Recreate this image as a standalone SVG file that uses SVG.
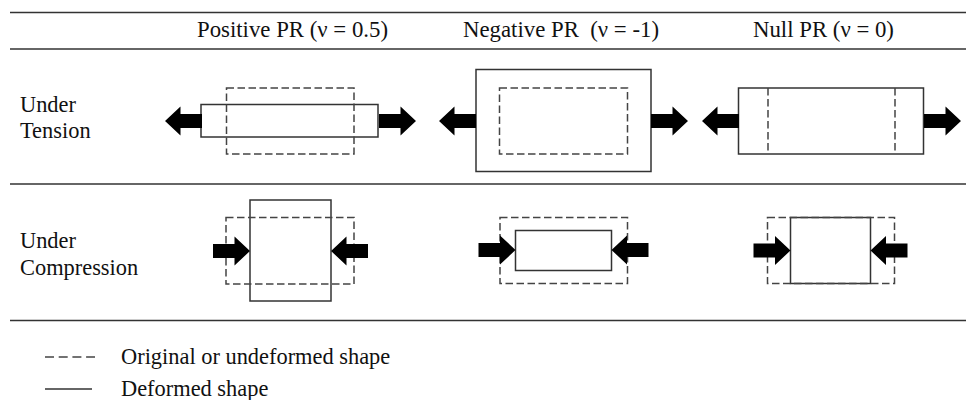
<svg xmlns="http://www.w3.org/2000/svg" width="966" height="400" viewBox="0 0 966 400">
  <defs>
    <style>
      .txt { font-family: "Liberation Serif", "Times New Roman", serif; fill: #111; }
      .hdr { font-size: 22.8px; }
      .lbl { font-size: 22.4px; }
      .rule { stroke: #333; stroke-width: 1.6; fill: none; }
      .solid { stroke: #333; stroke-width: 1.5; fill: none; }
      .dash { stroke: #444; stroke-width: 1.5; fill: none; stroke-dasharray: 7.5 3.5; }
      .arrow { fill: #000; }
    </style>
    <!-- block arrow pointing right, tip at origin -->
    <path id="arrowR" class="arrow" d="M-37,-7 L-15.5,-7 L-15.5,-14.5 L0,0 L-15.5,14.5 L-15.5,7 L-37,7 Z"/>
  </defs>

  <rect width="966" height="400" fill="#fff"/>

  <!-- table rules -->
  <g id="rules">
    <line class="rule" x1="10" y1="12.5" x2="966" y2="12.5"/>
    <line class="rule" x1="10" y1="49" x2="966" y2="49"/>
    <line class="rule" x1="10" y1="184" x2="966" y2="184"/>
    <line class="rule" x1="10" y1="320.5" x2="966" y2="320.5"/>
  </g>

  <!-- column headers -->
  <g id="headers" class="txt hdr" font-family="Liberation Serif, serif">
    <text x="197" y="37">Positive PR (ν = 0.5)</text>
    <text x="463" y="37" xml:space="preserve">Negative PR  (ν = -1)</text>
    <text x="753" y="37">Null PR (ν = 0)</text>
  </g>

  <!-- row labels -->
  <g id="row-tension" class="txt lbl" font-family="Liberation Serif, serif">
    <text x="20" y="111.5">Under</text>
    <text x="20" y="138">Tension</text>
  </g>
  <g id="row-compression" class="txt lbl" font-family="Liberation Serif, serif">
    <text x="20" y="248">Under</text>
    <text x="20" y="275">Compression</text>
  </g>

  <!-- tension cells -->
  <g id="tension-positive">
    <rect class="solid" x="201" y="104.5" width="177" height="32.5"/>
    <rect class="dash" x="226.5" y="88" width="127.5" height="66"/>
  </g>
  <g id="tension-negative">
    <rect class="solid" x="476" y="69.5" width="175" height="102"/>
    <rect class="dash" x="499.5" y="88" width="128" height="66"/>
  </g>
  <g id="tension-null">
    <rect class="solid" x="738.5" y="88" width="185" height="66"/>
    <line class="dash" x1="768" y1="88" x2="768" y2="154"/>
    <line class="dash" x1="895" y1="88" x2="895" y2="154"/>
  </g>

  <!-- compression cells -->
  <g id="compression-positive">
    <rect class="solid" x="250" y="200" width="81" height="101"/>
    <rect class="dash" x="226" y="217.5" width="128" height="66.5"/>
  </g>
  <g id="compression-negative">
    <rect class="solid" x="515.5" y="230.5" width="96" height="40"/>
    <rect class="dash" x="500" y="217.5" width="127.5" height="66"/>
  </g>
  <g id="compression-null">
    <rect class="solid" x="790.5" y="217.5" width="80" height="66"/>
    <rect class="dash" x="767.5" y="217.5" width="127" height="66"/>
  </g>

  <!-- load arrows -->
  <g id="connectors">
    <use href="#arrowR" transform="translate(165,121) scale(-1,1)"/>
    <use href="#arrowR" transform="translate(416,121)"/>
    <use href="#arrowR" transform="translate(439,121) scale(-1,1)"/>
    <use href="#arrowR" transform="translate(688,121)"/>
    <use href="#arrowR" transform="translate(702,121) scale(-1,1)"/>
    <use href="#arrowR" transform="translate(961,121)"/>

    <use href="#arrowR" transform="translate(250,251)"/>
    <use href="#arrowR" transform="translate(331,251) scale(-1,1)"/>
    <use href="#arrowR" transform="translate(515.5,250)"/>
    <use href="#arrowR" transform="translate(611.5,250) scale(-1,1)"/>
    <use href="#arrowR" transform="translate(790.5,250.5)"/>
    <use href="#arrowR" transform="translate(870.5,250.5) scale(-1,1)"/>
  </g>

  <!-- legend -->
  <g id="legend">
    <line class="dash" x1="45" y1="357" x2="95" y2="357" style="stroke-dasharray: 9 4.7"/>
    <line class="solid" x1="45" y1="389" x2="92" y2="389"/>
    <text class="txt lbl" font-family="Liberation Serif, serif" x="121" y="364">Original or undeformed shape</text>
    <text class="txt lbl" font-family="Liberation Serif, serif" x="121" y="396">Deformed shape</text>
  </g>
</svg>
